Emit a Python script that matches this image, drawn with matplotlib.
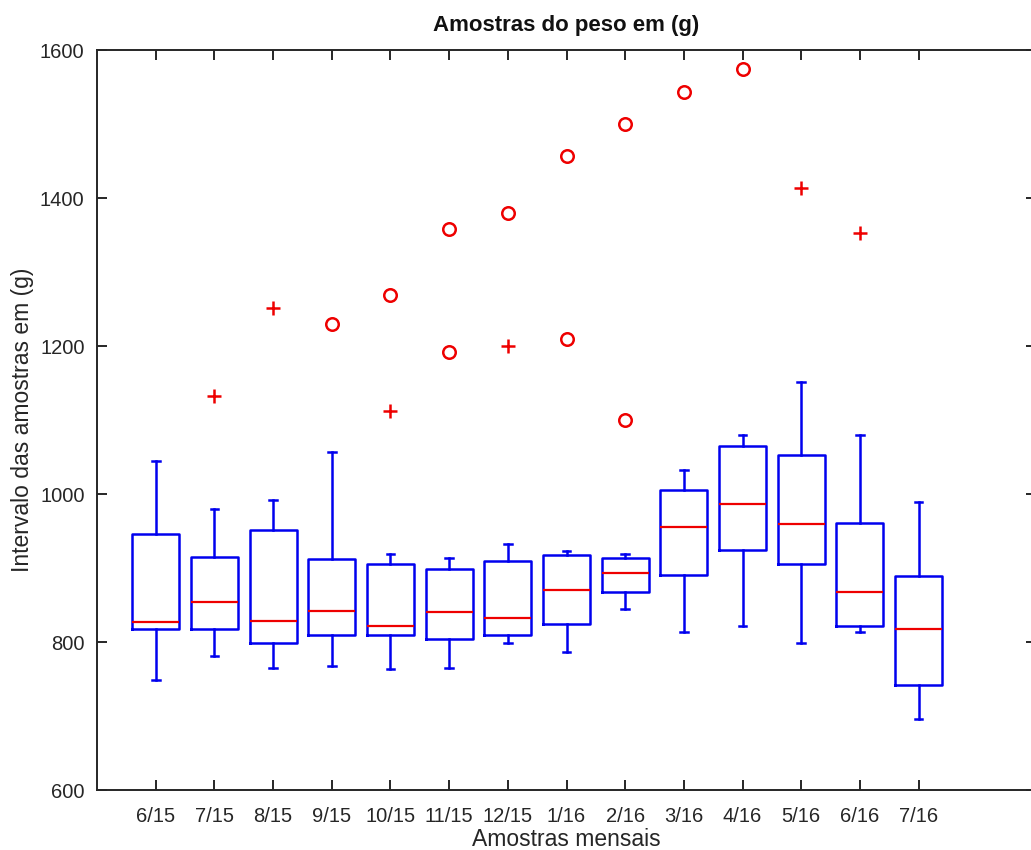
import matplotlib
matplotlib.use("Agg")
import matplotlib.pyplot as plt

plt.rcParams['font.family'] = ['Liberation Sans', 'DejaVu Sans']

# ---- data ----
categories = ["6/15", "7/15", "8/15", "9/15", "10/15", "11/15", "12/15",
              "1/16", "2/16", "3/16", "4/16", "5/16", "6/16", "7/16"]
whisker_low = [749, 781, 765, 768, 764, 765, 799, 787, 845, 813, 821, 798, 813, 696]
q1 = [817, 818, 798, 809, 809, 804, 809, 824, 867, 891, 924, 905, 822, 742]
median = [827, 854, 829, 842, 822, 841, 833, 870, 893, 956, 986, 959, 868, 817]
q3 = [946, 915, 952, 912, 905, 899, 910, 917, 914, 1005, 1065, 1053, 961, 889]
whisker_high = [1045, 980, 992, 1057, 919, 914, 932, 923, 919, 1033, 1080, 1152, 1080, 989]

# outliers drawn as '+' : (category, value)
plus_cat = ["7/15", "8/15", "10/15", "12/15", "5/16", "6/16"]
plus_val = [1132, 1251, 1112, 1200, 1413, 1353]
# outliers drawn as 'o' : (category, value)
circ_cat = ["9/15", "10/15", "11/15", "11/15", "12/15", "1/16", "1/16",
            "2/16", "2/16", "3/16", "4/16"]
circ_val = [1230, 1269, 1192, 1358, 1380, 1209, 1457, 1100, 1500, 1543, 1574]

title = "Amostras do peso em (g)"
xlabel = "Amostras mensais"
ylabel = "Intervalo das amostras em (g)"

# ---- figure ----
fig = plt.figure(figsize=(10.31, 8.5), dpi=100)
ax = fig.add_axes([97 / 1031, 60 / 850, (1036 - 97) / 1031, 740 / 850])

stats = []
for i, c in enumerate(categories):
    stats.append(dict(label=c, med=median[i], q1=q1[i], q3=q3[i],
                      whislo=whisker_low[i], whishi=whisker_high[i], fliers=[]))

positions = list(range(1, len(categories) + 1))
blue = "#0000ee"
ax.bxp(stats, positions=positions, widths=0.8, capwidths=0.13,
       showfliers=False,
       boxprops=dict(color=blue, linewidth=1.8),
       whiskerprops=dict(color=blue, linewidth=1.8),
       capprops=dict(color=blue, linewidth=1.8),
       medianprops=dict(color="#ee0000", linewidth=1.6))

pos_of = {c: p for c, p in zip(categories, positions)}
ax.plot([pos_of[c] for c in plus_cat], plus_val, linestyle="none", marker="+",
        color="#ee0000", markersize=10, markeredgewidth=1.8)
ax.plot([pos_of[c] for c in circ_cat], circ_val, linestyle="none", marker="o",
        markerfacecolor="none", markeredgecolor="#ee0000", markersize=9,
        markeredgewidth=1.8)

ax.set_xlim(0, 16)
ax.set_ylim(600, 1600)
ax.set_xticks(positions)
ax.set_xticklabels(categories)
ax.set_yticks([600, 800, 1000, 1200, 1400, 1600])

dark = "#262626"
for s in ax.spines.values():
    s.set_color(dark)
    s.set_linewidth(1.4)
ax.tick_params(axis="both", direction="in", length=7, width=1.4, color=dark,
               labelcolor=dark, labelsize=14.5, top=True, right=True)
ax.tick_params(axis="x", pad=12)
ax.tick_params(axis="y", pad=9)

ax.set_title(title, fontsize=16, fontweight="bold", color="#111111", pad=14)
ax.set_xlabel(xlabel, fontsize=16.5, color=dark, labelpad=2)
ax.set_ylabel(ylabel, fontsize=16.5, color=dark, labelpad=4)

fig.savefig("out.png", dpi=100)
